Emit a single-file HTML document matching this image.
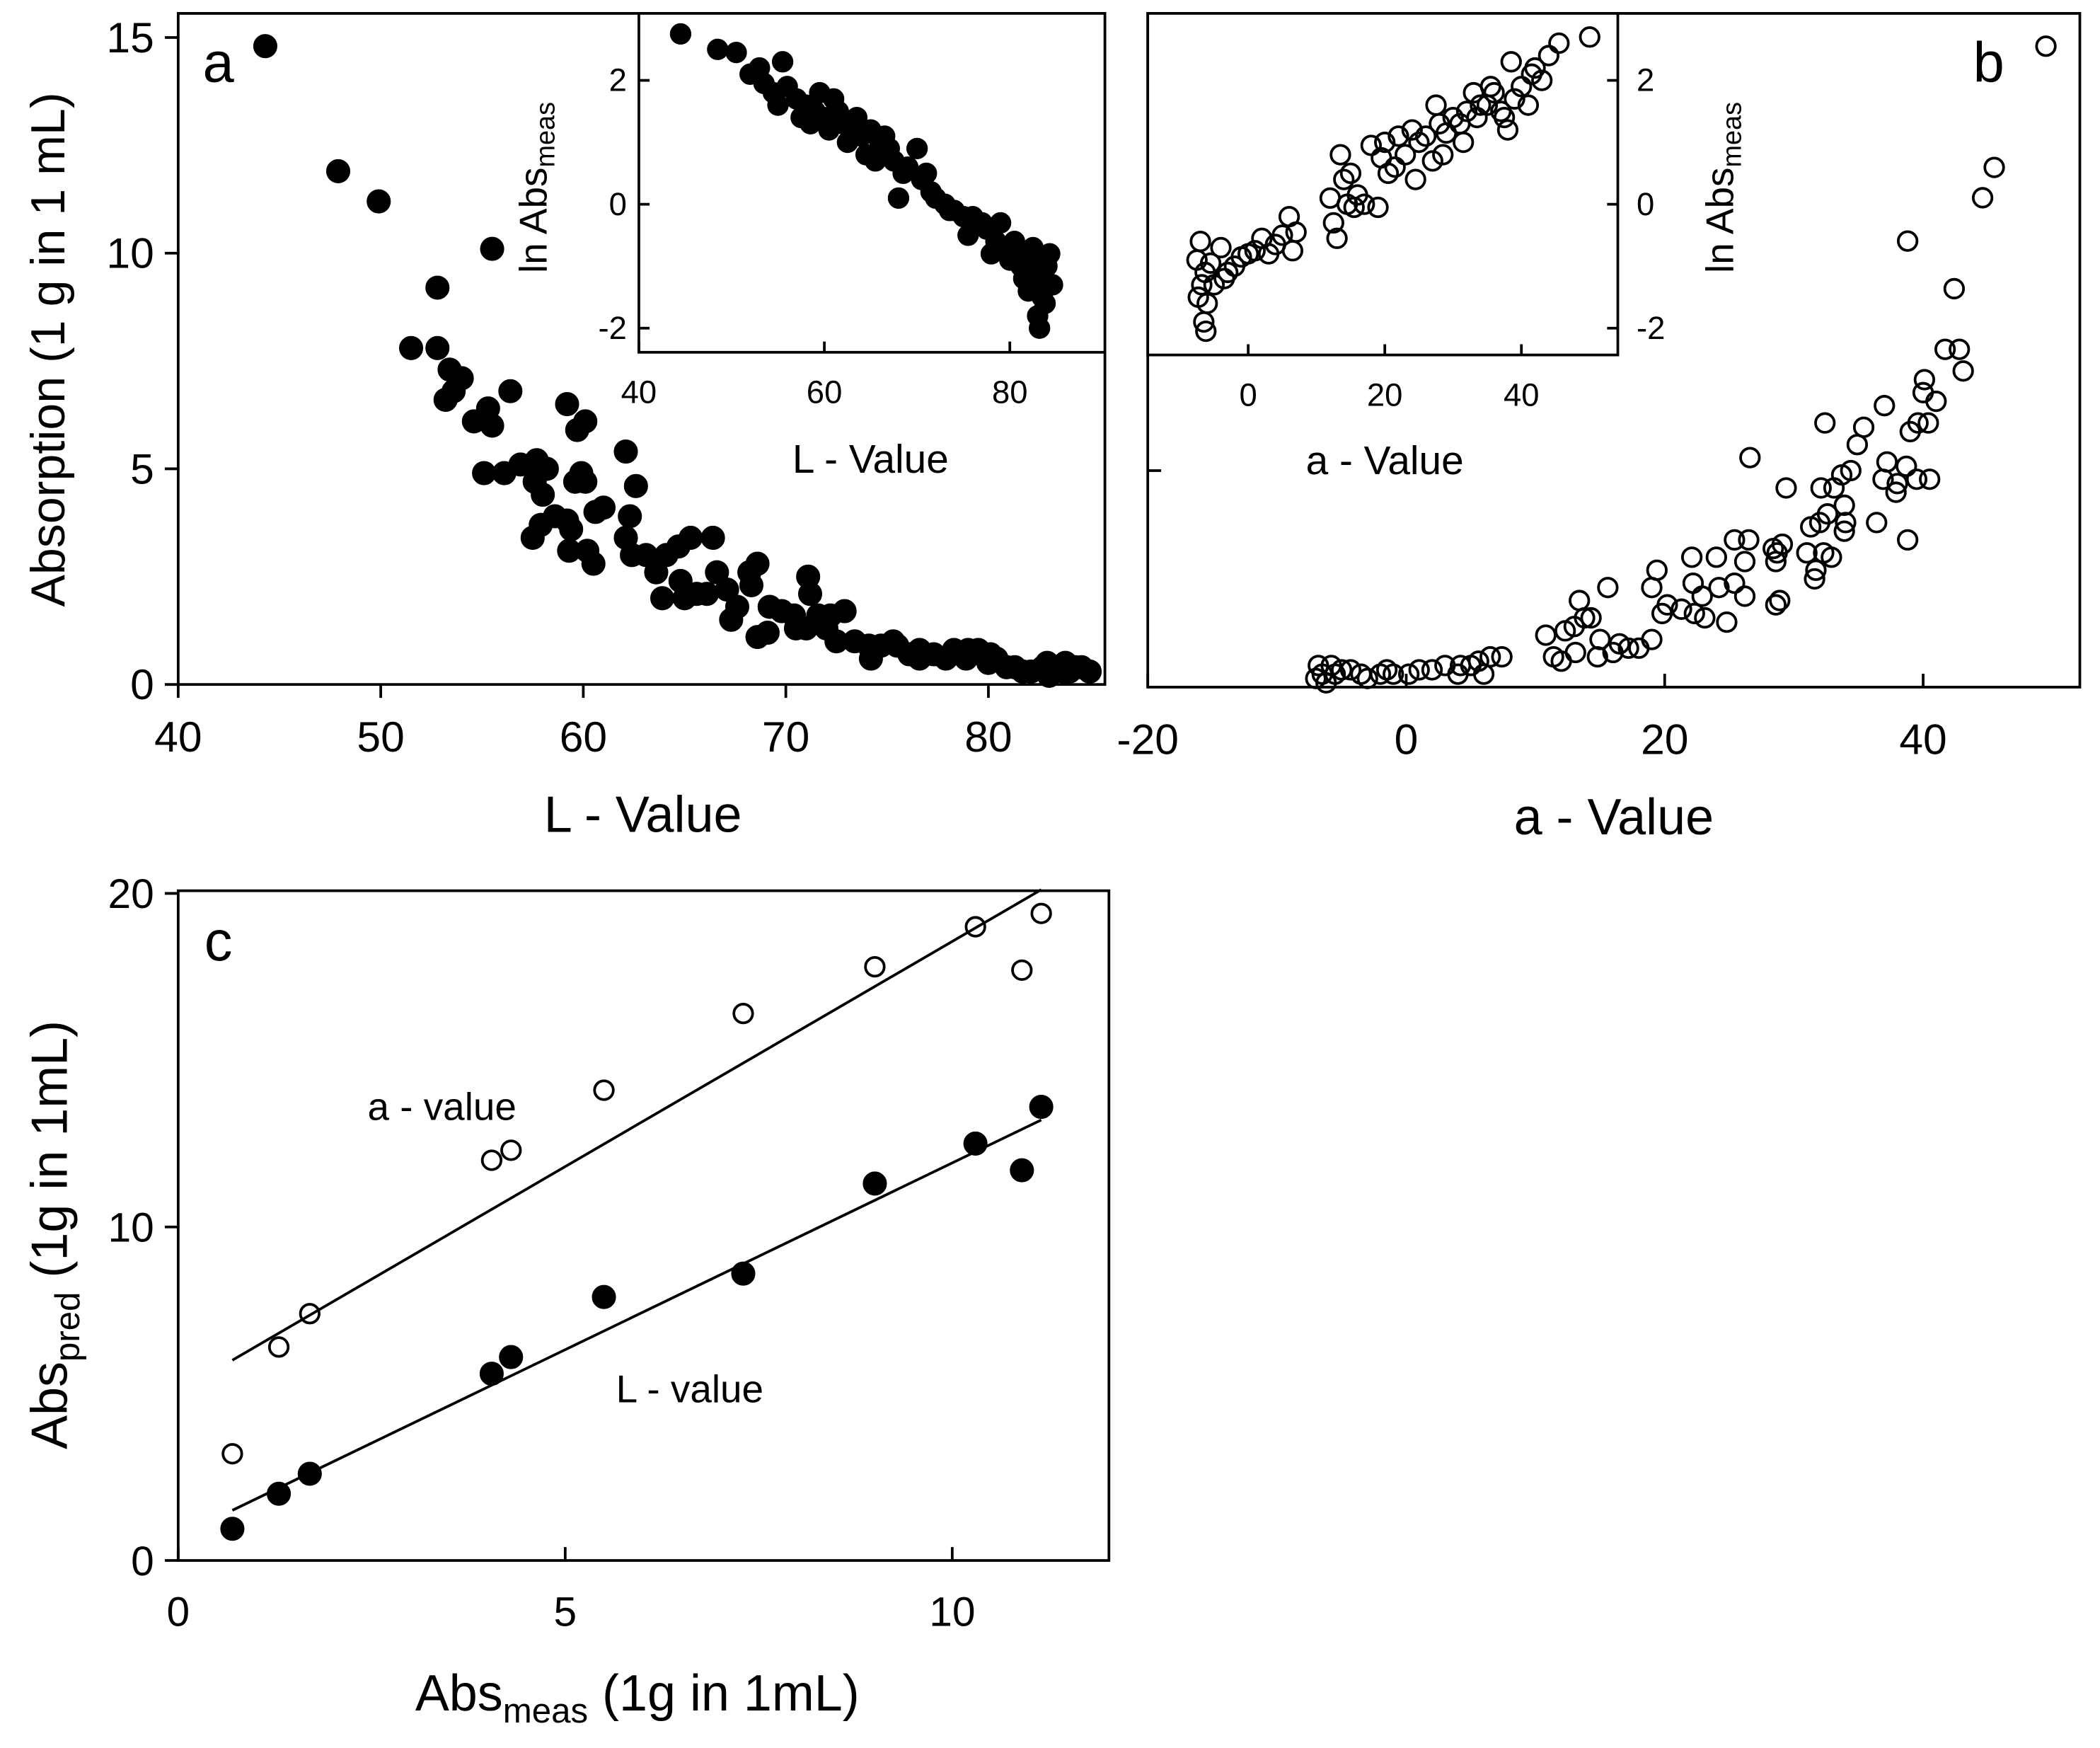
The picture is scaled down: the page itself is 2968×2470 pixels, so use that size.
<!DOCTYPE html>
<html><head><meta charset="utf-8"><style>
html,body{margin:0;padding:0;background:#fff}
svg{display:block}
text{font-family:"Liberation Sans",Arial,sans-serif;fill:#000}
</style></head><body>
<svg id="fig" width="2968" height="2470" viewBox="0 0 1568 1305" xmlns="http://www.w3.org/2000/svg"></svg>
<script>
// ---- Panel a data (L-value vs absorption) ----
const aMainL=[44.3,47.9,49.9,55.5,52.8,51.5,52.8,53.4,54,53.2,53.6,56.4,54.6,55.3,55.5,55.1,56.1,56.9,57.7,58.2,57.6,58.0,58.6,57.5,57.9,59.2,60.1,59.7,59.6,60.1,59.9,60.6,61.0,59.2,59.4,59.3,60.2,60.5,62.1,62.6,62.3,62.1,62.4,63.1,63.6,64.1,64.7,65.3,63.9,64.8,65.0,65.6,66.1,66.4,66.6,67.1,67.6,68.2,68.6,68.3,69.2,68.6,69.1,69.8,70.4,71.1,71.2,71.6,71.0,72.2,72.5,73.4,72.9,74.1,74.7,75.5,74.2,76.1,76.6,77.3,77.9,78.3,78.9,79.5,80.0,80.4,80.9,81.3,81.7,82.1,82.7,83.0,83.3,83.7,84.0,84.3,84.6,85.0,82.9,83.8,80.1,79.0,76.6,75.3,72.0,70.5,67.3];
const aMainAbs=[14.8,11.9,11.2,10.1,9.2,7.8,7.8,7.3,7.1,6.6,6.8,6.8,6.1,6.4,6.0,4.9,4.9,5.1,5.2,5.0,4.7,4.4,3.9,3.4,3.7,6.5,6.1,5.9,4.7,4.7,4.9,4.0,4.1,3.8,3.6,3.1,3.1,2.8,5.4,4.6,3.9,3.4,3.0,3.0,2.6,3.0,3.2,3.4,2.0,2.4,2.0,2.1,2.1,3.4,2.6,2.2,1.8,2.6,2.8,2.3,1.8,1.1,1.2,1.7,1.6,2.5,2.1,1.6,1.3,1.6,1.0,1.0,1.7,0.9,0.9,0.9,0.6,0.7,0.6,0.7,0.6,0.8,0.6,0.8,0.5,0.6,0.4,0.4,0.3,0.3,0.4,0.2,0.4,0.3,0.3,0.4,0.4,0.3,0.5,0.5,0.7,0.8,0.8,1.0,1.3,1.3,1.5];
const aInsetL=[44.5,48.5,50.5,52,53,53.5,54.5,55.5,55,56,57,57.5,58,58.5,59,59.5,60,60.5,61,61.5,62,62.5,63,63.5,64,64.5,65,65.5,66,66.5,67,67.5,68,68.5,69,70,70.5,71,71.5,72,73,73.5,74,75,75.5,76,77,77.5,78,78.5,79,79.5,80,80.5,81,81.5,82,82.5,83,83.5,83,83.2,83.8,84,84.3,84.6,82.8,83.5,81.2];
const aInsetLn=[2.75,2.5,2.45,2.1,2.2,1.95,1.8,2.3,1.6,1.9,1.7,1.4,1.6,1.3,1.5,1.8,1.4,1.2,1.7,1.5,1.3,1.0,1.2,1.4,1.1,0.8,1.2,0.7,1.0,1.1,0.9,0.7,0.1,0.5,0.6,0.9,0.4,0.5,0.2,0.1,0.0,-0.1,-0.1,-0.2,-0.5,-0.2,-0.3,-0.4,-0.8,-0.6,-0.3,-0.7,-0.9,-0.6,-0.8,-1.2,-1.4,-0.7,-1.1,-1.5,-1.8,-2.0,-1.6,-1.0,-0.8,-1.3,-0.8,-1.2,-1.0];
// ---- Panel b data (a-value vs absorption) ----
const bMainA=[49.5,45.5,44.6,38.8,42.4,42.8,41.7,43.1,40.1,40.0,41.0,37.0,39.6,40.4,32.4,35.4,34.9,39.0,26.6,37.2,38.7,36.9,39.5,40.5,33.7,34.4,29.4,32.1,33.1,37.9,38.0,33.9,32.6,31.3,32.0,36.4,34.0,33.9,38.8,25.4,26.5,28.7,28.4,29.1,31.0,32.3,32.9,22.1,24.0,26.2,28.6,31.7,31.6,19.4,19.0,22.2,24.2,25.4,26.2,28.9,28.6,15.6,19.8,20.2,21.3,22.3,23.1,24.8,22.9,13.4,10.8,12.3,13.0,13.8,14.3,15.0,16.5,17.2,18.0,19.0,11.4,12.0,13.1,14.8,16.0,6.5,7.4,5.6,5.0,4.2,3.0,2.0,1.0,0.2,-1.0,-2.0,-3.5,-4.3,-5.5,-6.5,-7.0,-6.8,-5.8,-5.0,-6.2,-3.0,-1.5,4.0,6.0];
const bMainAbs=[14.8,12.0,11.3,10.3,9.2,7.8,7.8,7.3,7.1,6.8,6.6,6.5,6.1,6.1,6.1,6.0,5.6,5.9,5.3,5.2,5.1,4.8,4.8,4.8,4.9,5.0,4.6,4.6,4.6,4.5,4.7,4.2,4.0,3.7,3.8,3.8,3.8,3.6,3.4,3.4,3.4,3.1,3.2,3.3,3.1,3.1,3.0,3.0,3.0,2.9,2.9,2.7,2.5,2.7,2.3,2.4,2.3,2.4,2.1,2.0,1.9,2.3,1.7,1.9,1.8,1.7,1.6,1.5,2.1,2.0,1.2,1.3,1.4,1.6,1.6,1.1,1.0,0.9,0.9,1.1,0.7,0.6,0.8,0.7,0.8,0.7,0.7,0.6,0.5,0.5,0.5,0.4,0.4,0.3,0.3,0.3,0.3,0.4,0.3,0.3,0.2,0.5,0.5,0.4,0.1,0.2,0.4,0.3,0.3];
const bInsetA=[-7,-7.5,-6.8,-6.3,-6,-6.5,-6.2,-7.3,-5.5,-5,-4,-3.5,-3,-2,-1,0,1,2,3,4,5,6,7,6.5,12,12.5,13,13.5,14,14.5,15,15.5,16,17,18,19,19.5,20,20.5,21.5,22,23,24,24.5,25,26,27,27.5,28,28.5,29,30,31,31.5,32,33,33.5,34,35,36,37,38,38.5,39,40,41,41.5,42,43,44,45.5,50,35.5,37.5];
const bInsetLn=[-0.6,-0.9,-1.3,-1.1,-1.6,-1.9,-2.05,-1.5,-0.95,-1.3,-0.7,-1.2,-1.1,-1.0,-0.85,-0.8,-0.75,-0.55,-0.8,-0.65,-0.5,-0.2,-0.45,-0.75,0.1,-0.3,-0.55,0.8,0.4,0.0,0.5,-0.05,0.15,0.0,0.95,-0.05,0.75,1.0,0.5,0.6,1.1,0.8,1.2,0.4,1.0,1.1,0.7,1.6,1.3,0.8,1.15,1.4,1.3,1.0,1.5,1.8,1.4,1.6,1.6,1.8,1.5,1.2,2.3,1.7,1.9,1.6,2.1,2.2,2.0,2.4,2.6,2.7,1.9,1.4];
// ---- Panel c data ----
const cMeas=[0.7,1.3,1.7,4.05,4.3,5.5,7.3,9.0,10.3,10.9,11.15];
const cPredL=[0.95,2.0,2.6,5.6,6.1,7.9,8.6,11.3,12.5,11.7,13.6];
const cPredA=[3.2,6.4,7.4,12.0,12.3,14.1,16.4,17.8,19.0,17.7,19.4];
const cLineA=[5.06,1.35];  // intercept, slope
const cLineL=[0.72,1.12];
const cLineRange=[0.7,11.15];
// tick labels
const aXTicks=[40,50,60,70,80], aYTicks=[0,5,10,15];
const aInXTicks=[40,60,80], inYTicks=[-2,0,2];
const bXTicks=[-20,0,20,40], bYTicks=[5,10];
const bInXTicks=[0,20,40];
const cXTicks=[0,5,10], cYTicks=[0,10,20];

const NS="http://www.w3.org/2000/svg";
const svg=document.getElementById('fig');
function mk(tag,attrs,parent){const e=document.createElementNS(NS,tag);for(const k in attrs)e.setAttribute(k,attrs[k]);(parent||svg).appendChild(e);return e;}
function lin(d0,d1,r0,r1){return v=>r0+(v-d0)*(r1-r0)/(d1-d0);}
function txt(s,x,y,size,anchor,name,parent){const t=mk('text',{x:x,y:y,'font-size':size,'text-anchor':anchor||'middle'},parent);t.textContent=s;return t;}
function frame(x0,y0,x1,y1,name){const r=mk('rect',{x:x0,y:y0,width:x1-x0,height:y1-y0,fill:'none',stroke:'#000','stroke-width':2});return r;}
function pts(xs,ys,sx,sy,r,filled,name){const g=mk('g',{});
 for(let i=0;i<xs.length;i++){const c=mk('circle',{cx:sx(xs[i]),cy:sy(ys[i]),r:r,fill:filled?'#000':'none',stroke:'#000','stroke-width':2},g);}}

// ===== Panel a =====
const ax=lin(40,80,133,738), ay=lin(0,15,511,28);
frame(133,10,825,511,'panel-a-frame');
aXTicks.forEach(v=>{mk('line',{x1:ax(v),y1:511,x2:ax(v),y2:521,stroke:'#000','stroke-width':2});txt(String(v),ax(v),561,32,'middle','x-tick-label');});
aYTicks.forEach(v=>{mk('line',{x1:123,y1:ay(v),x2:133,y2:ay(v),stroke:'#000','stroke-width':2});txt(String(v),115,ay(v)+11,32,'end','y-tick-label');});
pts(aMainL,aMainAbs,ax,ay,8,true,'panel-a-points');
txt('a',163,61,42,'middle','panel-a-label');
txt('L - Value',480,621,38,'middle','panel-a-x-title');
txt('Absorption (1 g in 1 mL)',0,0,36,'middle','panel-a-y-title').setAttribute('transform','translate(48,261) rotate(-90)');
// inset a
mk('rect',{x:477,y:10,width:348,height:253,fill:'#fff',stroke:'none'});
const iax=lin(40,80,477,754), iay=lin(-2,2,245,60);
aInXTicks.forEach(v=>{mk('line',{x1:iax(v),y1:263,x2:iax(v),y2:255,stroke:'#000','stroke-width':2});txt(String(v),iax(v),301,24,'middle','inset-a-x-tick');});
inYTicks.forEach(v=>{mk('line',{x1:477,y1:iay(v),x2:485,y2:iay(v),stroke:'#000','stroke-width':2});txt(String(v),468,iay(v)+8,24,'end','inset-a-y-tick');});
pts(aInsetL,aInsetLn,iax,iay,7,true,'inset-a-points');
frame(477,10,825,263,'inset-a-frame');
txt('L - Value',650,353,30,'middle','inset-a-x-title');
const ti=txt('ln Abs',0,0,29,'middle','inset-a-y-title');ti.setAttribute('transform','translate(408,140) rotate(-90)');
const ts=mk('tspan',{'font-size':20,dy:6},ti);ts.textContent='meas';

// ===== Panel b =====
const bx=lin(-20,40,857,1436), by=lin(0,15,513,28);
frame(857,10,1553,513,'panel-b-frame');
bXTicks.forEach(v=>{mk('line',{x1:bx(v),y1:513,x2:bx(v),y2:503,stroke:'#000','stroke-width':2});txt(String(v),bx(v),563,32,'middle','x-tick-label');});
bYTicks.forEach(v=>{mk('line',{x1:857,y1:by(v),x2:867,y2:by(v),stroke:'#000','stroke-width':2});});
pts(bMainA,bMainAbs,bx,by,7,false,'panel-b-points');
txt('b',1485,61,42,'middle','panel-b-label');
txt('a - Value',1205,623,38,'middle','panel-b-x-title');
// inset b
mk('rect',{x:857,y:10,width:351,height:255,fill:'#fff',stroke:'none'});
const ibx=lin(0,40,932,1136), iby=lin(-2,2,245,60);
bInXTicks.forEach(v=>{mk('line',{x1:ibx(v),y1:265,x2:ibx(v),y2:257,stroke:'#000','stroke-width':2});txt(String(v),ibx(v),303,24,'middle','inset-b-x-tick');});
inYTicks.forEach(v=>{mk('line',{x1:1208,y1:iby(v),x2:1200,y2:iby(v),stroke:'#000','stroke-width':2});txt(String(v),1222,iby(v)+8,24,'start','inset-b-y-tick');});
pts(bInsetA,bInsetLn,ibx,iby,7,false,'inset-b-points');
frame(857,10,1208,265,'inset-b-frame');
txt('a - Value',1034,354,30,'middle','inset-b-x-title');
const tb=txt('ln Abs',0,0,29,'middle','inset-b-y-title');tb.setAttribute('transform','translate(1294,140) rotate(-90)');
const tbs=mk('tspan',{'font-size':20,dy:6},tb);tbs.textContent='meas';

// ===== Panel c =====
const cx=lin(0,10,133,711), cy=lin(0,20,1165,667);
frame(133,665,828,1165,'panel-c-frame');
cXTicks.forEach(v=>{mk('line',{x1:cx(v),y1:1165,x2:cx(v),y2:1155,stroke:'#000','stroke-width':2});txt(String(v),cx(v),1214,31,'middle','x-tick-label');});
cYTicks.forEach(v=>{mk('line',{x1:123,y1:cy(v),x2:133,y2:cy(v),stroke:'#000','stroke-width':2});txt(String(v),115,cy(v)+11,31,'end','y-tick-label');});
[[cLineA,'a-value-fit-line'],[cLineL,'l-value-fit-line']].forEach(([p,n])=>{const l=mk('line',{x1:cx(cLineRange[0]),y1:cy(p[0]+p[1]*cLineRange[0]),x2:cx(cLineRange[1]),y2:cy(p[0]+p[1]*cLineRange[1]),stroke:'#000','stroke-width':2});});
pts(cMeas,cPredA,cx,cy,7,false,'a-value-points');
pts(cMeas,cPredL,cx,cy,8,true,'l-value-points');
txt('c',163,717,42,'middle','panel-c-label');
txt('a - value',330,836,29,'middle','a-value-annotation');
txt('L - value',515,1047,29,'middle','l-value-annotation');
const cxT=txt('Abs',310,1277,38,'start','panel-c-x-title');
const cxs=mk('tspan',{'font-size':26,dy:9},cxT);cxs.textContent='meas';
const cxr=mk('tspan',{dy:-9},cxT);cxr.textContent=' (1g in 1mL)';
const cyT=txt('Abs',0,0,38,'start','panel-c-y-title');cyT.setAttribute('transform','translate(50,1082) rotate(-90)');
const cys=mk('tspan',{'font-size':26,dy:9},cyT);cys.textContent='pred';
const cyr=mk('tspan',{dy:-9},cyT);cyr.textContent=' (1g in 1mL)';
</script>
</body></html>
